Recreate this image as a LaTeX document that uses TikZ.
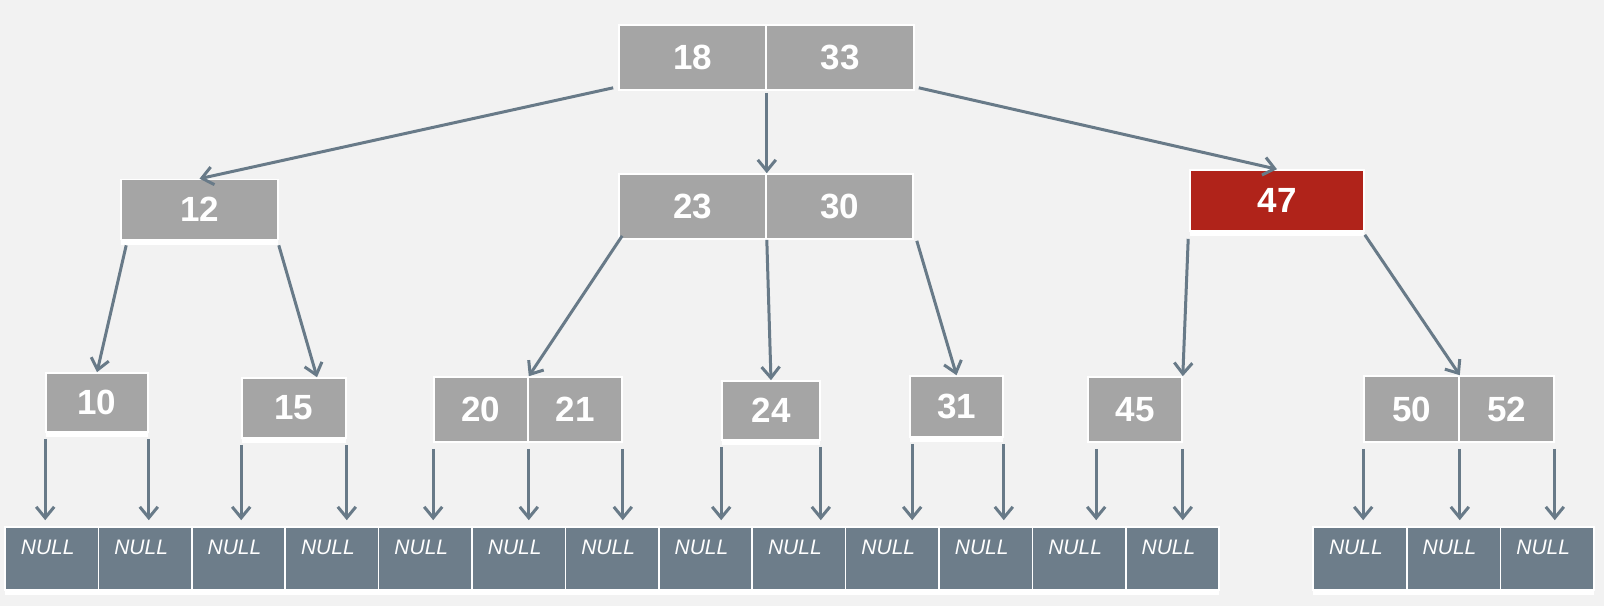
\documentclass[tikz,border=0pt]{standalone}
\usepackage{fontspec}
\setmainfont{Liberation Sans}
\usetikzlibrary{arrows.meta,shadows}
\definecolor{bg}{HTML}{F2F2F2}
\definecolor{keygray}{HTML}{A5A5A5}
\definecolor{keyred}{HTML}{B0231A}
\definecolor{nullslate}{HTML}{6D7D8A}
\definecolor{arrowslate}{HTML}{687A88}
\begin{document}
\begin{tikzpicture}[x=1pt,y=-1pt,
  key/.style={draw=white, line width=1.6pt, fill=keygray, text=white,
    font=\fontsize{35}{40}\selectfont\bfseries, inner sep=0pt},
  redkey/.style={key, fill=keyred},
  shad/.style={drop shadow={shadow xshift=0pt, shadow yshift=-5pt, fill=white, opacity=1}},
  nulltext/.style={text=white, font=\fontsize{21}{24}\selectfont\itshape, xshift=-4pt, yshift=11pt},
  nullcell/.style={draw=white, line width=1.6pt, fill=nullslate, minimum width=93.4pt,
    minimum height=63pt, inner sep=0pt, shad, label={[nulltext]center:NULL}},
  arr/.style={draw=arrowslate, line width=3pt,
    -{Straight Barb[length=11pt,width=18pt,line width=3pt]}},
  down/.style={arr, shorten >=6pt},
]
\fill[bg] (0,0) rectangle (1604,606);
\useasboundingbox (0,0) rectangle (1604,606);

% root
\node[key, minimum width=147pt, minimum height=65pt] (r1) at (692.5,57.5) {18};
\node[key, minimum width=148pt, minimum height=65pt] (r2) at (840,57.5) {33};
% second level
\node[key, shad, minimum width=157pt, minimum height=60pt] (a) at (199.5,209.5) {12};
\node[key, minimum width=147pt, minimum height=65pt] (b1) at (692.5,206.5) {23};
\node[key, minimum width=147pt, minimum height=65pt] (b2) at (839.5,206.5) {30};
\node[redkey, shad, minimum width=174pt, minimum height=61pt] (c) at (1277,200.5) {47};
% third level
\node[key, shad, minimum width=102pt, minimum height=59pt] (d) at (97,402.5) {10};
\node[key, shad, minimum width=104pt, minimum height=60pt] (e) at (294,408) {15};
\node[key, minimum width=94pt, minimum height=65pt] (f1) at (481,409.5) {20};
\node[key, minimum width=94pt, minimum height=65pt] (f2) at (575,409.5) {21};
\node[key, shad, minimum width=98pt, minimum height=59pt] (g) at (771,410.5) {24};
\node[key, shad, minimum width=93pt, minimum height=61pt] (h) at (956.5,406.5) {31};
\node[key, minimum width=94pt, minimum height=65pt] (i) at (1135,409.5) {45};
\node[key, minimum width=95pt, minimum height=66pt] (j1) at (1411.5,409) {50};
\node[key, minimum width=95pt, minimum height=66pt] (j2) at (1506.5,409) {52};

% NULL cells
\foreach \k in {1,...,13} {
  \node[nullcell] (n\k) at ({5+93.4*(\k-0.5)},558.5) {};
}
\foreach \k in {1,2,3} {
  \node[nullcell, minimum width=93.7pt] (m\k) at ({1313+93.7*(\k-0.5)},558.5) {};
}

% connectors between keys
\draw[arr] ([shift={(-5,-3)}]r1.south west) -- (a.north);
\draw[arr] ([yshift=-2pt]r1.south east) -- (b1.north east);
\draw[arr] ([shift={(4,-3)}]r2.south east) -- (c.north);
\draw[arr] ([shift={(6,5)}]a.south west) -- (d.north);
\draw[arr] ([yshift=-5pt]a.south east) -- ([xshift=23pt]e.north);
\draw[arr] ([shift={(4,-4)}]b1.south west) -- (f1.north east);
\draw[arr] (b1.south east) -- (g.north);
\draw[arr] ([shift={(3,1)}]b2.south east) -- (h.north);
\draw[arr] ([shift={(-1,7)}]c.south west) -- (i.north east);
\draw[arr] ([yshift=-3pt]c.south east) -- (j1.north east);

% pointers to NULL
\coordinate (hL) at ([xshift=3pt]h.south west);
\coordinate (iL) at ([xshift=9pt]i.south west);
\foreach \s/\t in {d.south west/n1, d.south east/n2, e.south west/n3, e.south east/n4,
  f1.south west/n5, f1.south east/n6, f2.south east/n7, g.south west/n8, g.south east/n9,
  hL/n10, h.south east/n11, iL/n12, i.south east/n13,
  j1.south west/m1, j1.south east/m2, j2.south east/m3} {
  \draw[down] ([yshift=-6pt]\s) -- (\s |- \t.north);
}
\end{tikzpicture}
\end{document}
